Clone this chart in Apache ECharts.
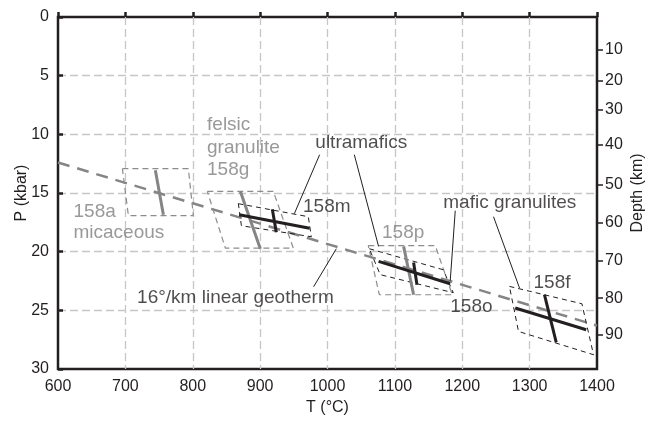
<!DOCTYPE html>
<html>
<head>
<meta charset="utf-8">
<script src="https://cdn.jsdelivr.net/npm/echarts@6/dist/echarts.min.js"></script>
<style>
  html, body { margin: 0; padding: 0; background: #fff; }
  #chart { width: 647px; height: 423px; }
</style>
</head>
<body>
<div id="chart"></div>
<script>
// axis ticks
var depthLabels = [10, 20, 30, 40, 50, 60, 70, 80, 90]
// pressure (kbar) at which each depth label sits
var depthAtP = [2.75, 5.43, 7.93, 10.91, 14.32, 17.53, 20.80, 23.97, 27.10]

// 16°/km geotherm [T, P]
var geotherm = [[600, 12.4], [1400, 26.3]]

// grey samples (felsic)
var s158aLine = [[744.5, 13.07], [756.4, 16.85]]
var s158aBox = [[695.6, 12.93], [793.5, 12.93], [800.9, 16.93], [704.5, 16.93]]
var s158gLine = [[870.6, 14.86], [900.3, 19.75]]
var s158gBox = [[821.6, 14.86], [919.6, 14.86], [949.2, 19.69], [848.4, 19.69]]
var s158pLine = [[1113, 19.55], [1127.8, 23.67]]
var s158pBox = [[1060.5, 19.49], [1160, 19.49], [1185.2, 23.67], [1076.9, 23.67]]

// black samples
var s158mLine = [[868.9, 16.85], [973.5, 18.0]]
var s158mCross = [[918.1, 16.38], [924, 18.34]]
var s158mBox = [[867.7, 15.91], [971.5, 17.02], [976.0, 18.73], [872.2, 17.79]]
var s158oLine = [[1075.8, 20.83], [1182, 22.73]]
var s158oCross = [[1127.8, 20.92], [1132.8, 22.82]]
var s158oBox = [[1062, 19.75], [1171.8, 21.54], [1186.7, 23.5], [1078.3, 21.96]]
var s158fLine = [[1278.6, 24.8], [1384, 26.65]]
var s158fCross = [[1322, 23.67], [1339.5, 27.73]]
var s158fBox = [[1270, 22.96], [1377.6, 24.44], [1394.8, 28.78], [1283.5, 26.8]]

// leader lines
var leaders = [
  [[988.3, 11.74], [950.8, 16.76]],
  [[1039.8, 11.74], [1075.8, 19.55]],
  [[1189.6, 16.51], [1182.2, 22.47]],
  [[1246.4, 17.02], [1285, 23.10]],
  [[979.4, 22.99], [1013.1, 19.75]]
]

// annotations
var greyText = ['158a', 'micaceous', 'felsic', 'granulite', '158g', '158p']
var greyPos = [[623, 16.6], [623, 18.38], [821.2, 9.18], [821.2, 11.17], [821.2, 13.01], [1080.9, 18.36]]
var blackText = ['ultramafics', '158m', 'mafic granulites', '158f', '158o', '16°/km linear geotherm']
var blackPos = [[981.9, 10.69], [963.7, 16.14], [1171.8, 15.8], [1305.8, 22.67], [1182.2, 24.72], [717.4, 23.95]]

var BLACK = '#231f20'
var GREY = '#858585'
var FONT = "'Liberation Sans', Arial, sans-serif"

function closed (pts) {
  return pts.concat([pts[0]])
}

function seg (data, color, width, dash) {
  return {
    type: 'line',
    data: data,
    showSymbol: false,
    silent: true,
    lineStyle: { color: color, width: width, type: dash || 'solid' }
  }
}

function labels (texts, pos, color) {
  return {
    type: 'scatter',
    symbolSize: 0,
    silent: true,
    data: texts.map(function (t, i) {
      return { name: t, value: pos[i] }
    }),
    label: {
      show: true,
      position: 'right',
      distance: 0.01,
      formatter: '{b}',
      color: color,
      fontSize: 19,
      fontFamily: FONT
    }
  }
}

var series = []
series.push(seg(geotherm, GREY, 2.5, [12, 8]))

series.push(seg(closed(s158aBox), '#8c8c8c', 1.2, [6, 4]))
series.push(seg(closed(s158gBox), '#8c8c8c', 1.2, [6, 4]))
series.push(seg(closed(s158pBox), '#8c8c8c', 1.2, [6, 4]))
series.push(seg(closed(s158mBox), BLACK, 1, [5, 4]))
series.push(seg(closed(s158oBox), BLACK, 1, [5, 4]))
series.push(seg(closed(s158fBox), BLACK, 1, [5, 4]))

series.push(seg(s158aLine, GREY, 3))
series.push(seg(s158gLine, GREY, 3))
series.push(seg(s158pLine, GREY, 3))
series.push(seg(s158mLine, BLACK, 3))
series.push(seg(s158mCross, BLACK, 3))
series.push(seg(s158oLine, BLACK, 3))
series.push(seg(s158oCross, BLACK, 3))
series.push(seg(s158fLine, BLACK, 3))
series.push(seg(s158fCross, BLACK, 3))

for (var i = 0; i < leaders.length; i++) {
  series.push(seg(leaders[i], BLACK, 1))
}

series.push(labels(greyText, greyPos, '#808080'))
series.push(labels(blackText, blackPos, BLACK))

var gridLine = { show: true, showMinLine: false, showMaxLine: false, lineStyle: { color: '#c6c6c6', width: 1.3, type: [8, 4] } }

var chart = echarts.init(document.getElementById('chart'))
chart.setOption({
  animation: false,
  backgroundColor: '#fff',
  textStyle: { fontFamily: FONT },
  grid: {
    left: 58, right: 50, top: 17, bottom: 54,
    outerBoundsMode: 'none',
    containLabel: false,
    show: true, borderColor: BLACK, borderWidth: 2.5, backgroundColor: 'transparent'
  },
  xAxis: {
    type: 'value',
    min: 600,
    max: 1400,
    interval: 100,
    name: 'T (°C)',
    nameLocation: 'middle',
    nameGap: 31,
    nameTextStyle: { fontSize: 16, color: BLACK, fontFamily: FONT },
    axisLine: { show: false },
    axisTick: { show: true, inside: true, length: 5, lineStyle: { color: BLACK, width: 2.5 } },
    axisLabel: { fontSize: 16, color: BLACK, margin: 10, fontFamily: FONT, formatter: function (v) { return String(v) } },
    splitLine: gridLine
  },
  yAxis: [
    {
      type: 'value',
      min: 0,
      max: 30,
      interval: 5,
      inverse: true,
      name: 'P (kbar)',
      nameLocation: 'middle',
      nameGap: 28,
      nameRotate: 90,
      nameMoveOverlap: false,
      nameTextStyle: { fontSize: 16, color: BLACK, fontFamily: FONT },
      axisLine: { show: false },
      axisTick: { show: true, inside: true, length: 5, lineStyle: { color: BLACK, width: 2.5 } },
      axisLabel: { fontSize: 16, color: BLACK, margin: 9, fontFamily: FONT },
      splitLine: gridLine
    },
    {
      type: 'value',
      min: 0,
      max: 30,
      inverse: true,
      position: 'right',
      name: 'Depth (km)',
      nameLocation: 'middle',
      nameGap: 33,
      nameRotate: 90,
      nameMoveOverlap: false,
      nameTextStyle: { fontSize: 16, color: BLACK, fontFamily: FONT },
      axisLine: { show: false },
      axisTick: { show: true, length: 6, customValues: depthAtP, lineStyle: { color: BLACK, width: 1.5 } },
      axisLabel: {
        fontSize: 16,
        color: BLACK,
        margin: 8,
        fontFamily: FONT,
        customValues: depthAtP,
        formatter: function (v) {
          var k = depthAtP.indexOf(v)
          return k >= 0 ? String(depthLabels[k]) : ''
        }
      },
      splitLine: { show: false }
    }
  ],
  series: series
})
</script>
</body>
</html>
